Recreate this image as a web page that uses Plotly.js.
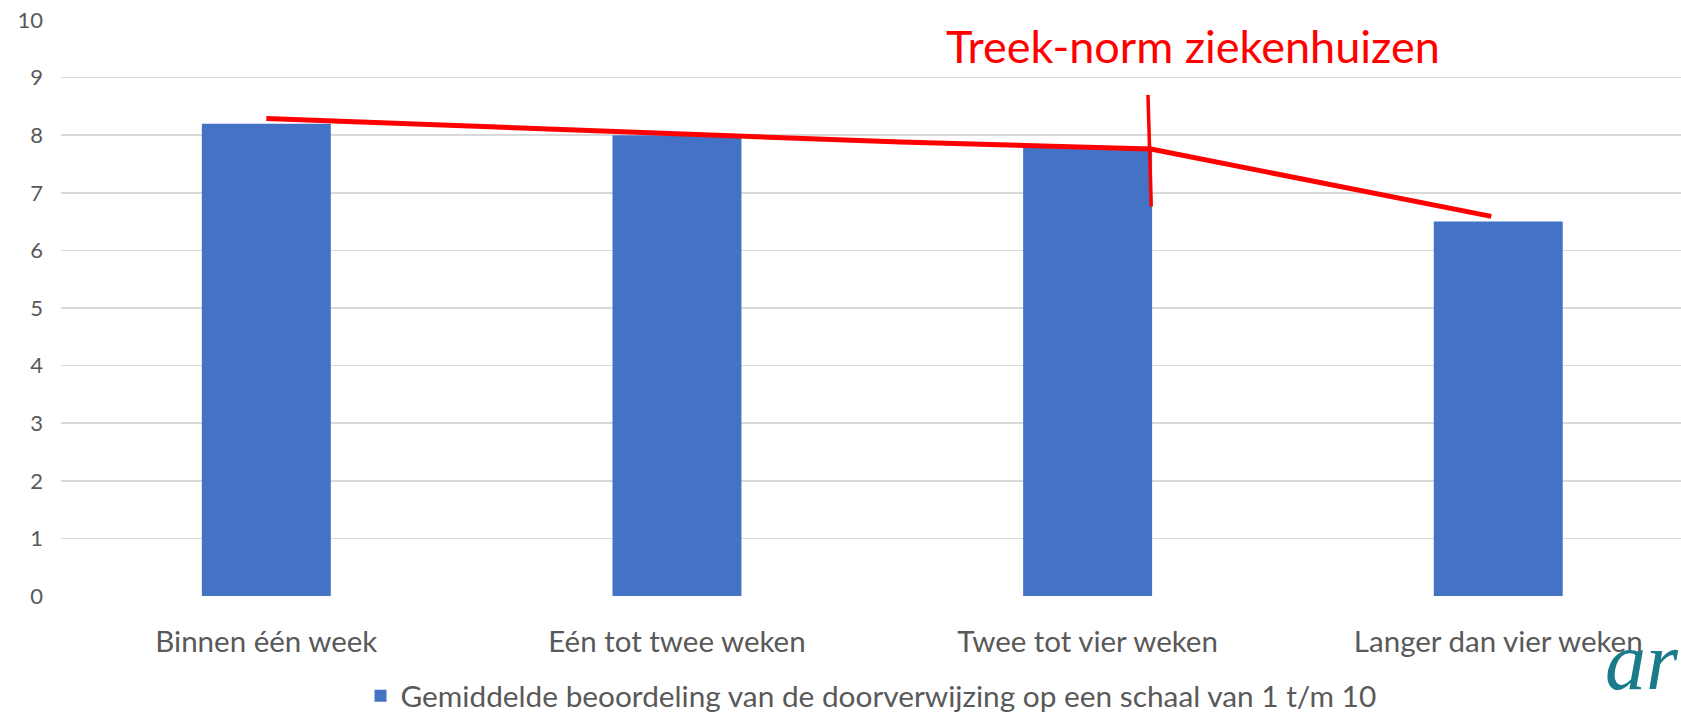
<!DOCTYPE html>
<html>
<head>
<meta charset="utf-8">
<script src="https://cdn.plot.ly/plotly-3.0.1.min.js"></script>
<style>html,body{margin:0;padding:0;background:#fff;}#chart{width:1681px;height:716px;}</style>
</head>
<body>
<div id="chart"></div>
<script>
// Data
const categories = ["Binnen één week", "Eén tot twee weken", "Twee tot vier weken", "Langer dan vier weken"];
const scores = [8.2, 8.0, 7.8, 6.5];
const seriesName = "Gemiddelde beoordeling van de doorverwijzing op een schaal van 1 t/m 10";
const yTicks = [0, 1, 2, 3, 4, 5, 6, 7, 8, 9, 10];
// Hand-drawn red "Treek-norm" line (category-position, value)
const normX = [0, 1.544, 2.154, 2.983];
const normY = [8.29, 7.88, 7.76, 6.59];
const normMarkX = [2.147, 2.155];
const normMarkY = [8.70, 6.76];
const normLabel = "Treek-norm ziekenhuizen";
const logoText = "ar";

const catPos = categories.map((c, i) => i);
const font = "Lato, 'Open Sans', sans-serif";

const traces = [
  {
    type: "bar",
    x: catPos,
    y: scores,
    name: seriesName,
    width: 0.314,
    marker: {color: "#4472C4"},
    hoverinfo: "y"
  },
  {
    type: "scatter",
    mode: "lines",
    x: normX,
    y: normY,
    line: {color: "#FF0000", width: 5},
    showlegend: false,
    hoverinfo: "skip"
  },
  {
    type: "scatter",
    mode: "lines",
    x: normMarkX,
    y: normMarkY,
    line: {color: "#FF0000", width: 3.5},
    showlegend: false,
    hoverinfo: "skip"
  }
];

const layout = {
  width: 1681,
  height: 716,
  margin: {l: 60.5, r: 0, t: 20, b: 120, autoexpand: false},
  paper_bgcolor: "#ffffff",
  plot_bgcolor: "#ffffff",
  font: {family: font, color: "#595959"},
  xaxis: {
    range: [-0.5, 3.445],
    tickvals: catPos,
    ticktext: categories,
    showgrid: false,
    zeroline: false,
    showline: false,
    ticks: "",
    automargin: false,
    ticklabelstandoff: 25,
    tickfont: {family: font, size: 29.5, color: "#595959"}
  },
  yaxis: {
    range: [0, 10],
    tickvals: yTicks,
    showgrid: true,
    gridcolor: "#D9D9D9",
    gridwidth: 1.5,
    zeroline: false,
    showline: false,
    ticks: "",
    automargin: false,
    ticklabelstandoff: 17,
    tickfont: {family: font, size: 22, color: "#595959"}
  },
  showlegend: true,
  legend: {
    orientation: "h",
    x: 0.5,
    xanchor: "center",
    yref: "container",
    y: 0.028,
    yanchor: "middle",
    font: {family: font, size: 29.8, color: "#595959"}
  },
  bargap: 0.686,
  annotations: [
    {
      text: normLabel,
      xref: "paper",
      yref: "paper",
      x: 0.6987,
      y: 0.955,
      xanchor: "center",
      yanchor: "middle",
      showarrow: false,
      font: {family: font, size: 45, color: "#FF0000"}
    },
    {
      text: logoText,
      xref: "paper",
      yref: "paper",
      x: 1.0,
      y: -0.113,
      xanchor: "right",
      yanchor: "middle",
      showarrow: false,
      font: {family: "'Liberation Serif', serif", size: 82, color: "#1A7B8A", style: "italic"}
    }
  ]
};

Plotly.newPlot("chart", traces, layout, {displayModeBar: false, staticPlot: true});
</script>
</body>
</html>
